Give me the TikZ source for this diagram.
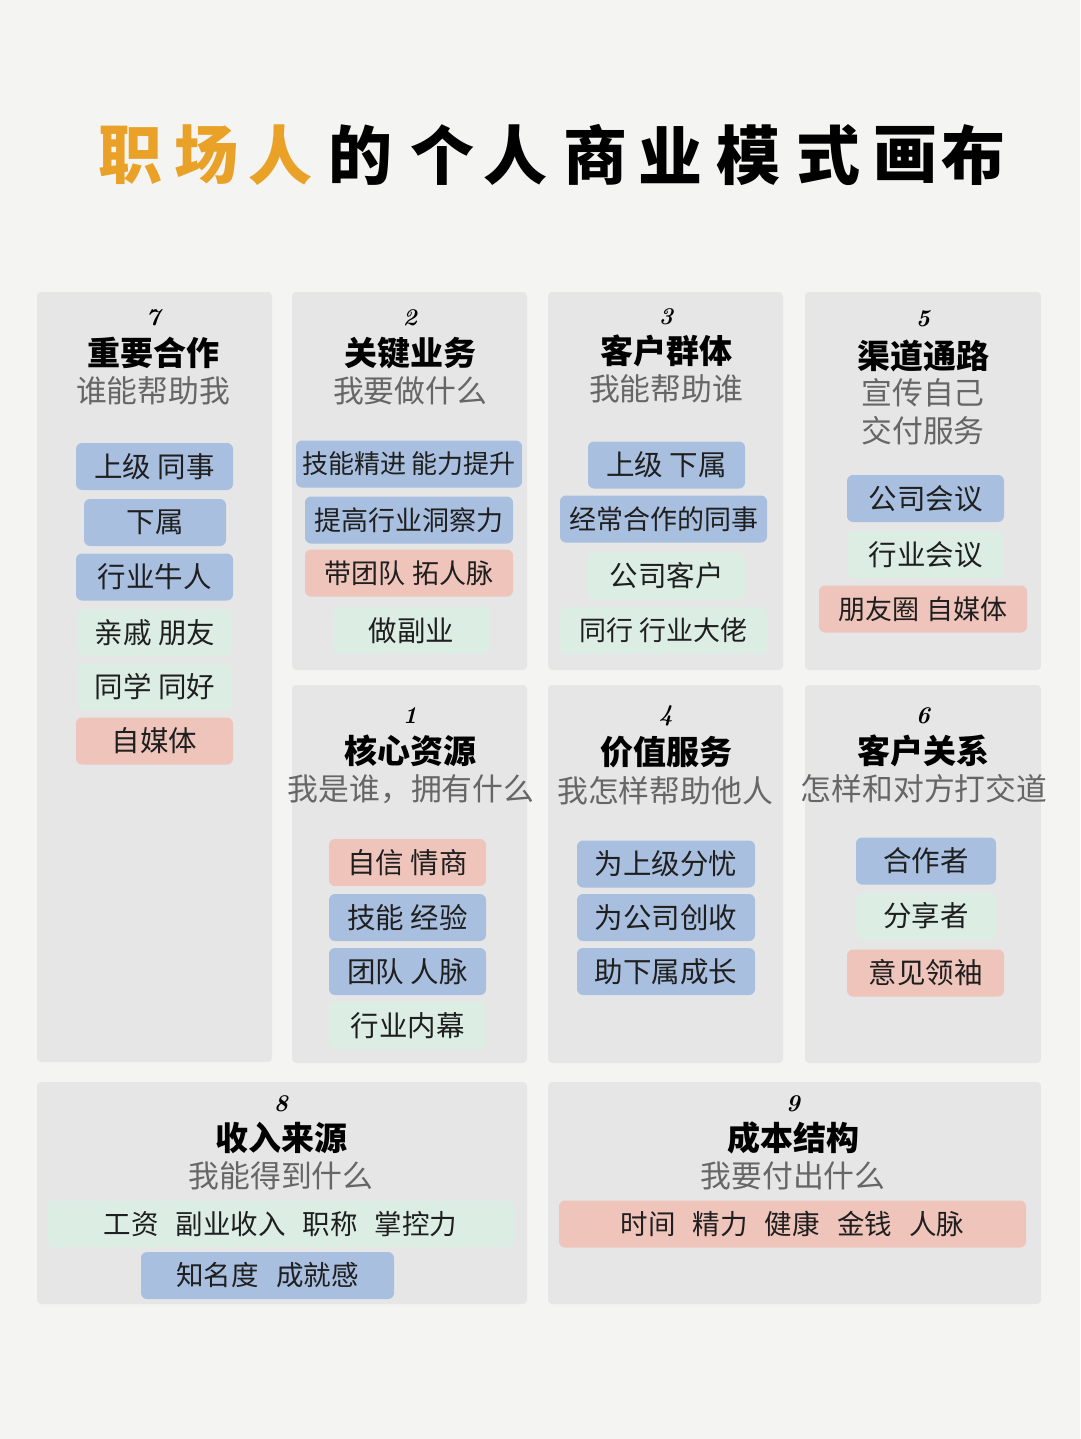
\documentclass[tikz,border=0pt]{standalone}
\usepackage{fontspec}
\newfontfamily\cjk{Noto Sans CJK SC}
\definecolor{bgc}{HTML}{F4F4F2}
\definecolor{panelc}{HTML}{E6E6E6}
\definecolor{bluec}{HTML}{A9BFDF}
\definecolor{pinkc}{HTML}{EEC4BB}
\definecolor{mintc}{HTML}{DCEEE4}
\definecolor{orangec}{HTML}{E9A227}
\definecolor{subc}{HTML}{666666}
\tikzset{
  panel/.style={fill=panelc, rounded corners=4pt, draw=none},
  chip/.style={rounded corners=6pt, minimum height=47pt, inner sep=0pt, text=black!88,
    font=\cjk\fontsize{28.5}{28.5}\selectfont},
  mid/.style={font=\cjk\fontsize{27}{27}\selectfont},
  bchip/.style={chip, fill=bluec},
  pchip/.style={chip, fill=pinkc},
  mchip/.style={chip, fill=mintc},
  numtxt/.style={font=\bfseries\itshape\fontsize{24}{24}\selectfont, inner sep=0pt},
  ttl/.style={font=\cjk\bfseries\fontsize{33}{33}\selectfont, inner sep=0pt},
  sub/.style={font=\cjk\fontsize{30.8}{30.8}\selectfont, text=subc, inner sep=0pt},
  tch/.style={font=\cjk\bfseries\fontsize{64}{64}\selectfont, inner sep=0pt},
}
\newcommand{\gp}{\hspace{0.62em}}
\begin{document}
\begin{tikzpicture}[x=1pt,y=-1pt]
\useasboundingbox (0,0) rectangle (1080,1439);
\fill[bgc] (0,0) rectangle (1080,1439);
% title
\foreach \ch/\xx/\cc [count=\i] in {职/130/orangec,场/206/orangec,人/280/orangec,的/360/black,个/442/black,人/515/black,商/595/black,业/670/black,模/748/black,式/828/black,画/905/black,布/973/black}
  \node[tch, text=\cc] (t\i) at (\xx,155) {\ch};
% panels
\fill[panel] (37,292) rectangle (272,1062);
\fill[panel] (292,292) rectangle (527,670);
\fill[panel] (548,292) rectangle (783,670);
\fill[panel] (805,292) rectangle (1041,670);
\fill[panel] (292,685) rectangle (527,1063);
\fill[panel] (548,685) rectangle (783,1063);
\fill[panel] (805,685) rectangle (1041,1063);
\fill[panel] (37,1082) rectangle (527,1304);
\fill[panel] (548,1082) rectangle (1041,1304);
% panel 7
\node[numtxt] (n7) at (153,318) {7};
\node[ttl] (h7) at (153,353) {重要合作};
\node[sub] (s7) at (153,391) {谁能帮助我};
\node[bchip, minimum width=157pt] (c71) at (154.5,466.5) {上级 同事};
\node[bchip, minimum width=142pt] (c72) at (155,522.5) {下属};
\node[bchip, minimum width=157pt] (c73) at (154.5,577) {行业牛人};
\node[mchip, minimum width=154pt] (c74) at (155,632.5) {亲戚 朋友};
\node[mchip, minimum width=154pt] (c75) at (155,686.5) {同学 同好};
\node[pchip, minimum width=157pt] (c76) at (154.5,741) {自媒体};
% panel 2
\node[numtxt] (n2) at (410,318) {2};
\node[ttl] (h2) at (410,353) {关键业务};
\node[sub] (s2) at (410,391) {我要做什么};
\node[bchip, minimum width=226pt, font=\cjk\fontsize{26}{26}\selectfont] (c21) at (409,464) {技能精进 能力提升};
\node[bchip, mid, minimum width=208pt] (c22) at (409,520) {提高行业洞察力};
\node[pchip, mid, minimum width=208pt] (c23) at (409,573) {带团队 拓人脉};
\node[mchip, minimum width=157pt] (c24) at (411.5,630.5) {做副业};
% panel 3
\node[numtxt] (n3) at (666,317) {3};
\node[ttl] (h3) at (666,351) {客户群体};
\node[sub] (s3) at (666,389) {我能帮助谁};
\node[bchip, minimum width=157pt] (c31) at (666.5,465) {上级 下属};
\node[bchip, mid, minimum width=207pt] (c32) at (663.5,519) {经常合作的同事};
\node[mchip, minimum width=157pt] (c33) at (666.5,576) {公司客户};
\node[mchip, mid, minimum width=207pt] (c34) at (663.5,630.5) {同行 行业大佬};
% panel 5
\node[numtxt] (n5) at (923,319) {5};
\node[ttl] (h5) at (923,356) {渠道通路};
\node[sub] (s5a) at (923,393) {宣传自己};
\node[sub] (s5b) at (923,431) {交付服务};
\node[bchip, minimum width=157pt] (c51) at (925.5,498.5) {公司会议};
\node[mchip, minimum width=157pt] (c52) at (925.5,554.5) {行业会议};
\node[pchip, mid, minimum width=208pt] (c53) at (923,609) {朋友圈 自媒体};
% panel 1
\node[numtxt] (n1) at (410,716) {1};
\node[ttl] (h1) at (410,751) {核心资源};
\node[sub] (s1) at (411,789) {我是谁，拥有什么};
\node[pchip, minimum width=157pt] (c11) at (407.5,862.5) {自信 情商};
\node[bchip, minimum width=157pt] (c12) at (407.5,917.5) {技能 经验};
\node[bchip, minimum width=157pt] (c13) at (407.5,971.5) {团队 人脉};
\node[mchip, minimum width=157pt] (c14) at (407.5,1025.5) {行业内幕};
% panel 4
\node[numtxt] (n4) at (666,716) {4};
\node[ttl] (h4) at (666,752) {价值服务};
\node[sub] (s4) at (665,791) {我怎样帮助他人};
\node[bchip, minimum width=178pt] (c41) at (666,864) {为上级分忧};
\node[bchip, minimum width=178pt] (c42) at (666,917.5) {为公司创收};
\node[bchip, minimum width=178pt] (c43) at (666,971.5) {助下属成长};
% panel 6
\node[numtxt] (n6) at (923,716) {6};
\node[ttl] (h6) at (923,751) {客户关系};
\node[sub] (s6) at (924,789) {怎样和对方打交道};
\node[bchip, minimum width=140pt] (c61) at (926,861) {合作者};
\node[mchip, minimum width=140pt] (c62) at (926,916) {分享者};
\node[pchip, minimum width=157pt] (c63) at (925.5,973) {意见领袖};
% panel 8
\node[numtxt] (n8) at (281,1104) {8};
\node[ttl] (h8) at (281,1138) {收入来源};
\node[sub] (s8) at (281,1176) {我能得到什么};
\node[mchip, minimum width=467pt, font=\cjk\fontsize{27.5}{27.5}\selectfont] (c81) at (280.5,1224) {工资\gp 副业收入\gp 职称\gp 掌控力};
\node[bchip, minimum width=253pt, font=\cjk\fontsize{27.5}{27.5}\selectfont] (c82) at (267.5,1275.5) {知名度\gp 成就感};
% panel 9
\node[numtxt] (n9) at (793,1104) {9};
\node[ttl] (h9) at (793,1138) {成本结构};
\node[sub] (s9) at (793,1176) {我要付出什么};
\node[pchip, minimum width=467pt, font=\cjk\fontsize{27.5}{27.5}\selectfont] (c91) at (792.5,1224) {时间\gp 精力\gp 健康\gp 金钱\gp 人脉};
\end{tikzpicture}
\end{document}
